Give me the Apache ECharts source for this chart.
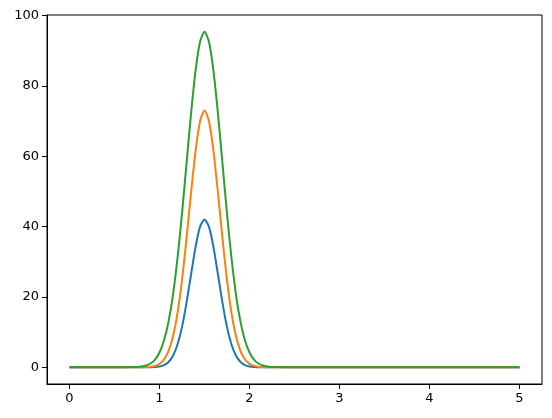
<!DOCTYPE html>
<html>
<head>
<meta charset="utf-8">
<script src="https://cdn.jsdelivr.net/npm/echarts@6/dist/echarts.min.js"></script>
<style>
  html, body { margin: 0; padding: 0; background: #fff; }
  #chart { width: 552px; height: 418px; }
</style>
</head>
<body>
<div id="chart"></div>
<script>
// x positions
var xs = [0, 0.5, 0.7, 0.75, 0.8, 0.85, 0.9, 0.95, 1.0, 1.05, 1.1, 1.15, 1.2, 1.25, 1.3, 1.35, 1.4, 1.45,
  1.5, 1.55, 1.6, 1.65, 1.7, 1.75, 1.8, 1.85, 1.9, 1.95, 2.0, 2.05, 2.1, 2.15, 2.2, 2.25, 2.3, 2.5, 3, 4, 5];

var blue = [0, 0, 0, 0, 0, 0, 0.02, 0.08, 0.23, 0.62, 1.5, 3.28, 6.46, 11.4, 18.3, 26.3, 34.1, 39.9,
  42.0, 39.9, 34.1, 26.3, 18.3, 11.4, 6.46, 3.28, 1.5, 0.62, 0.23, 0.08, 0.02, 0, 0, 0, 0, 0, 0, 0, 0];

var orange = [0, 0, 0, 0, 0.02, 0.05, 0.14, 0.39, 0.97, 2.2, 4.58, 8.78, 15.4, 24.8, 36.6, 49.5, 61.4, 69.9,
  73.0, 69.9, 61.4, 49.5, 36.6, 24.8, 15.4, 8.78, 4.58, 2.2, 0.97, 0.39, 0.14, 0.05, 0.02, 0, 0, 0, 0, 0, 0];

var green = [0, 0, 0.03, 0.08, 0.21, 0.49, 1.06, 2.17, 4.19, 7.59, 12.9, 20.6, 31.0, 43.7, 57.9, 72.0, 84.2, 92.5,
  95.4, 92.5, 84.2, 72.0, 57.9, 43.7, 31.0, 20.6, 12.9, 7.59, 4.19, 2.17, 1.06, 0.49, 0.21, 0.08, 0.03, 0, 0, 0, 0];

var xTicks = [0, 1, 2, 3, 4, 5];
var yTicks = [0, 20, 40, 60, 80, 100];

function pairs(ys) {
  return xs.map(function (x, i) { return [x, ys[i]]; });
}

var font = { fontFamily: 'DejaVu Sans', fontSize: 13, color: '#000' };

var chart = echarts.init(document.getElementById('chart'));
chart.setOption({
  animation: false,
  grid: {
    left: 47, right: 10, top: 15, bottom: 34,
    show: true, borderColor: '#000', borderWidth: 1, backgroundColor: 'transparent'
  },
  xAxis: {
    type: 'value', min: -0.25, max: 5.25,
    axisLine: { show: true, onZero: false, lineStyle: { color: '#000', width: 1 } },
    axisTick: { show: true, length: 5, customValues: xTicks, lineStyle: { color: '#000' } },
    axisLabel: Object.assign({ margin: 8, customValues: xTicks }, font),
    splitLine: { show: false }
  },
  yAxis: {
    type: 'value', min: -4.77, max: 100.17,
    axisLine: { show: true, onZero: false, lineStyle: { color: '#000', width: 1 } },
    axisTick: { show: true, length: 5, customValues: yTicks, lineStyle: { color: '#000' } },
    axisLabel: Object.assign({ margin: 8, customValues: yTicks }, font),
    splitLine: { show: false }
  },
  series: [
    { type: 'line', data: pairs(blue), showSymbol: false, smooth: 0.25,
      lineStyle: { color: '#1f77b4', width: 2 }, itemStyle: { color: '#1f77b4' } },
    { type: 'line', data: pairs(orange), showSymbol: false, smooth: 0.25,
      lineStyle: { color: '#ff7f0e', width: 2 }, itemStyle: { color: '#ff7f0e' } },
    { type: 'line', data: pairs(green), showSymbol: false, smooth: 0.25,
      lineStyle: { color: '#2ca02c', width: 2 }, itemStyle: { color: '#2ca02c' } }
  ]
});
</script>
</body>
</html>
